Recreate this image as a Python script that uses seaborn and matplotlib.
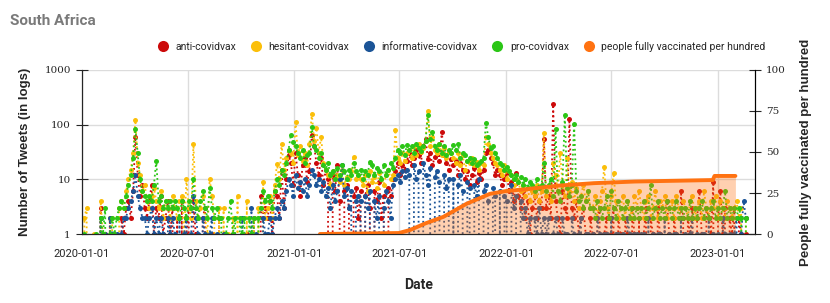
import pandas as pd
import numpy as np
import seaborn as sns
import matplotlib
matplotlib.use('Agg')
import matplotlib.pyplot as plt
import matplotlib.dates as mdates
from matplotlib.lines import Line2D

# tweet counts, one value every 4 days starting 2020-01-01
anti = [
    0, 0, 0, 0, 0, 0, 0, 0, 3, 0, 1, 0, 2, 0, 1, 0, 0, 2, 1, 3,
    4, 2, 6, 60, 12, 5, 8, 3, 2, 4, 8, 1, 3, 2, 5, 1, 2, 4, 1, 3,
    0, 2, 0, 4, 0, 1, 3, 0, 4, 1, 0, 0, 2, 3, 0, 0, 1, 0, 0, 2,
    0, 1, 0, 0, 0, 1, 0, 0, 0, 0, 0, 1, 0, 0, 2, 0, 0, 5, 2, 3,
    2, 4, 1, 6, 5, 2, 15, 3, 10, 28, 20, 8, 30, 12, 5, 18, 25, 9, 14, 65,
    40, 20, 12, 25, 8, 15, 10, 0, 12, 6, 18, 4, 0, 6, 8, 3, 0, 5, 7, 2,
    6, 0, 5, 8, 3, 0, 6, 4, 9, 2, 5, 0, 7, 5, 10, 14, 20, 12, 18, 15,
    22, 30, 18, 25, 35, 28, 20, 40, 55, 24, 30, 18, 26, 35, 22, 74, 28, 20, 15, 24,
    18, 22, 12, 20, 15, 10, 14, 8, 12, 16, 9, 13, 10, 15, 30, 35, 25, 20, 12, 15,
    12, 8, 10, 13, 6, 9, 4, 13, 5, 3, 6, 2, 4, 1, 3, 5, 2, 4, 3, 55,
    3, 5, 2, 235, 4, 2, 1, 6, 3, 2, 126, 3, 2, 4, 1, 2, 3, 1, 0, 2,
    1, 0, 2, 3, 0, 1, 2, 0, 1, 3, 0, 2, 1, 0, 2, 1, 0, 3, 1, 0,
    2, 0, 1, 3, 0, 2, 1, 0, 3, 1, 0, 2, 4, 1, 0, 2, 1, 0, 6, 2,
    0, 2, 1, 3, 0, 2, 6, 1, 0, 3, 2, 1, 9, 0, 2, 6, 1, 3, 0, 2,
    1, 3, 0, 2, 1, 0, 1]

hesitant = [
    0, 2, 3, 0, 0, 1, 0, 0, 4, 1, 0, 0, 2, 2, 0, 0, 3, 4, 3, 6,
    10, 15, 30, 120, 20, 12, 6, 8, 4, 3, 5, 7, 4, 3, 6, 2, 4, 3, 2, 5,
    3, 2, 4, 5, 1, 10, 3, 2, 44, 4, 2, 3, 5, 2, 1, 10, 5, 2, 0, 3,
    0, 3, 0, 1, 0, 2, 0, 5, 0, 1, 0, 4, 0, 0, 2, 0, 3, 0, 9, 2,
    3, 5, 2, 8, 19, 10, 44, 15, 25, 35, 30, 20, 112, 28, 40, 22, 30, 18, 45, 160,
    50, 87, 30, 60, 20, 15, 12, 8, 14, 10, 12, 9, 15, 8, 11, 10, 14, 26, 10, 12,
    10, 8, 12, 6, 14, 9, 11, 7, 13, 10, 8, 12, 15, 10, 12, 80, 25, 20, 30, 22,
    30, 35, 25, 40, 28, 45, 32, 38, 50, 180, 40, 60, 35, 30, 45, 28, 38, 25, 32, 30,
    25, 20, 30, 18, 28, 15, 22, 20, 25, 18, 21, 15, 20, 18, 60, 45, 30, 25, 20, 18,
    15, 12, 18, 10, 14, 12, 8, 10, 9, 6, 8, 5, 7, 4, 6, 5, 8, 4, 6, 70,
    5, 8, 4, 20, 12, 6, 30, 8, 5, 25, 6, 9, 4, 7, 3, 5, 8, 4, 6, 3,
    3, 5, 2, 4, 6, 17, 3, 2, 5, 13, 4, 2, 3, 5, 2, 4, 3, 2, 5, 3,
    6, 3, 2, 4, 5, 2, 3, 6, 2, 4, 3, 5, 2, 3, 4, 2, 5, 3, 2, 4,
    3, 2, 4, 5, 2, 3, 4, 2, 6, 3, 2, 4, 3, 5, 2, 4, 3, 2, 4, 3,
    2, 3, 4, 2, 3, 0, 2]

informative = [
    0, 0, 0, 0, 0, 0, 0, 0, 2, 0, 1, 0, 2, 1, 0, 1, 0, 1, 2, 2,
    3, 4, 6, 12, 5, 3, 2, 2, 1, 2, 3, 1, 2, 1, 2, 1, 0, 2, 1, 2,
    1, 0, 2, 0, 1, 2, 0, 1, 5, 2, 1, 0, 2, 1, 0, 1, 2, 0, 1, 0,
    0, 1, 0, 0, 0, 1, 0, 0, 0, 2, 0, 0, 0, 3, 0, 1, 0, 0, 2, 1,
    1, 2, 1, 2, 3, 2, 4, 3, 6, 10, 8, 5, 12, 7, 9, 6, 10, 5, 8, 15,
    12, 8, 10, 6, 9, 5, 7, 3, 8, 4, 6, 10, 18, 5, 7, 3, 6, 0, 4, 5,
    4, 0, 5, 3, 6, 0, 4, 2, 5, 0, 3, 6, 4, 2, 8, 10, 12, 9, 14, 11,
    15, 12, 0, 18, 10, 14, 0, 20, 12, 8, 16, 0, 11, 14, 9, 0, 12, 7, 10, 0,
    10, 0, 8, 12, 6, 0, 9, 7, 0, 8, 5, 10, 0, 6, 8, 4, 0, 7, 5, 0,
    6, 0, 5, 4, 0, 8, 3, 5, 0, 4, 2, 3, 1, 2, 0, 2, 1, 3, 1, 2,
    1, 2, 0, 1, 2, 1, 0, 2, 1, 1, 0, 2, 1, 0, 1, 2, 0, 1, 1, 0,
    1, 0, 2, 1, 0, 1, 1, 0, 2, 0, 1, 1, 0, 1, 0, 2, 1, 0, 1, 1,
    0, 1, 1, 0, 2, 0, 1, 0, 1, 1, 0, 2, 0, 1, 0, 1, 1, 0, 2, 0,
    1, 0, 1, 2, 0, 1, 0, 1, 1, 0, 2, 0, 1, 0, 1, 0, 2, 1, 0, 1,
    0, 1, 2, 0, 1, 4, 2]

pro = [
    0, 1, 0, 0, 0, 0, 1, 0, 2, 1, 3, 0, 1, 2, 1, 2, 3, 4, 3, 5,
    8, 12, 25, 85, 30, 10, 6, 5, 4, 5, 4, 8, 22, 4, 5, 3, 4, 3, 4, 3,
    4, 3, 2, 4, 3, 2, 4, 3, 10, 3, 2, 4, 6, 3, 2, 7, 3, 2, 3, 2,
    2, 0, 1, 2, 4, 1, 2, 0, 2, 1, 2, 0, 2, 1, 2, 0, 2, 3, 6, 4,
    5, 4, 3, 6, 10, 8, 15, 12, 20, 35, 65, 49, 40, 30, 25, 35, 20, 28, 30, 91,
    40, 35, 25, 30, 18, 15, 20, 12, 14, 10, 16, 12, 18, 14, 10, 15, 12, 20, 14, 12,
    15, 10, 14, 12, 21, 18, 12, 16, 14, 10, 18, 12, 15, 20, 16, 25, 35, 30, 40, 28,
    42, 35, 40, 30, 45, 38, 33, 40, 50, 150, 55, 73, 40, 35, 45, 30, 40, 28, 35, 30,
    42, 35, 45, 25, 30, 28, 22, 25, 20, 24, 18, 20, 22, 25, 108, 60, 38, 40, 30, 25,
    20, 18, 15, 17, 14, 12, 10, 12, 9, 11, 8, 10, 7, 9, 8, 6, 10, 7, 8, 20,
    6, 8, 10, 5, 85, 6, 4, 9, 150, 7, 5, 8, 105, 6, 4, 5, 3, 4, 6, 3,
    3, 2, 4, 3, 2, 3, 5, 2, 6, 3, 2, 4, 3, 2, 3, 4, 2, 3, 2, 3,
    2, 3, 4, 2, 3, 8, 2, 3, 4, 2, 3, 2, 4, 3, 2, 3, 4, 2, 3, 2,
    3, 2, 4, 2, 3, 2, 3, 4, 2, 3, 2, 3, 4, 2, 3, 2, 3, 6, 2, 3,
    2, 3, 2, 3, 2, 0, 2]

series_names = ['anti-covidvax', 'hesitant-covidvax', 'informative-covidvax', 'pro-covidvax']
series_vals = [anti, hesitant, informative, pro]
series_colors = ['#cc0a0a', '#fbbf0a', '#1b5497', '#2bc616']

vacc_dates = ['2021-02-14', '2021-06-30', '2021-07-19', '2021-08-15', '2021-09-15',
              '2021-10-25', '2021-12-04', '2022-01-01', '2022-02-01', '2022-04-01',
              '2022-06-01', '2022-08-11', '2022-12-23', '2022-12-26', '2023-01-31']
vacc_vals = [0, 0.6, 2.4, 6.5, 10.5, 18.5, 24.5, 26.2, 27.2, 29.5, 31.0, 32.0, 32.9, 35.4, 35.4]
vacc_color = '#ff7211'

sns.set_style('white')
plt.rcParams['font.family'] = ['Roboto', 'DejaVu Sans']

fig = plt.figure(figsize=(8.3, 3.03), dpi=100)
ax = fig.add_axes([0.0988, 0.2277, 0.811, 0.5413])

for name, vals, col in zip(series_names, series_vals, series_colors):
    d = pd.date_range('2020-01-01', periods=len(vals), freq='4D')
    sns.lineplot(x=d, y=vals, ax=ax, color=col, linestyle=':', lw=1.3,
                 marker='o', markersize=3.6, markeredgewidth=0, estimator=None)

ax.set_yscale('log')
ax.set_ylim(1, 1000)
ax.set_yticks([1, 10, 100, 1000])
ax.set_yticklabels(['1', '10', '100', '1000'], family='DejaVu Serif', fontsize=7.5)
ax.yaxis.set_minor_locator(matplotlib.ticker.NullLocator())
ax.set_xlim(pd.Timestamp('2020-01-01'), pd.Timestamp('2023-03-06'))
xt = pd.to_datetime(['2020-01-01', '2020-07-01', '2021-01-01', '2021-07-01',
                     '2022-01-01', '2022-07-01', '2023-01-01'])
ax.set_xticks(xt)
ax.xaxis.set_major_formatter(mdates.DateFormatter('%Y-%m-%d'))
ax.tick_params(axis='x', labelsize=8, direction='inout', length=9, pad=6)
ax.tick_params(axis='y', direction='inout', length=9)
ax.grid(True, color='#dcdcdc', lw=1)
ax.set_axisbelow(True)
ax.spines['top'].set_visible(False)
for s in ['left', 'bottom', 'right']:
    ax.spines[s].set_color('black')
ax.set_xlabel('Date', fontsize=10, fontweight='bold', labelpad=14)
ax.set_ylabel('Number of Tweets (in logs)', fontsize=9.5, fontweight='bold',
              family=['Liberation Sans', 'DejaVu Sans'], labelpad=10)

ax2 = ax.twinx()
vd = pd.to_datetime(vacc_dates)
ax2.fill_between(vd, vacc_vals, 0, color=vacc_color, alpha=0.33, lw=0)
sns.lineplot(x=vd, y=vacc_vals, ax=ax2, color=vacc_color, lw=2.8, estimator=None)
ax2.set_ylim(0, 100)
ax2.set_yticks([0, 25, 50, 75, 100])
ax2.set_yticklabels(['0', '25', '50', '75', '100'], family='DejaVu Serif', fontsize=7.5)
ax2.tick_params(axis='y', direction='inout', length=9)
ax2.spines['top'].set_visible(False)
ax2.spines['right'].set_color('black')
ax2.set_ylabel('People fully vaccinated per hundred', fontsize=9.5, fontweight='bold',
               family=['Liberation Sans', 'DejaVu Sans'], labelpad=10)

handles = [Line2D([], [], marker='o', ls='', markersize=8, markeredgewidth=0, color=c)
           for c in series_colors + [vacc_color]]
fig.legend(handles, series_names + ['people fully vaccinated per hundred'],
           loc='center', bbox_to_anchor=(0.553, 0.848), ncol=5, frameon=False,
           fontsize=7.5, handletextpad=0.2, columnspacing=0.9)

fig.text(0.012, 0.93, 'South Africa', fontsize=11, fontweight='bold', color='#7a7a7a',
         va='center')

fig.savefig('out.png', dpi=100)
plt.close(fig)
